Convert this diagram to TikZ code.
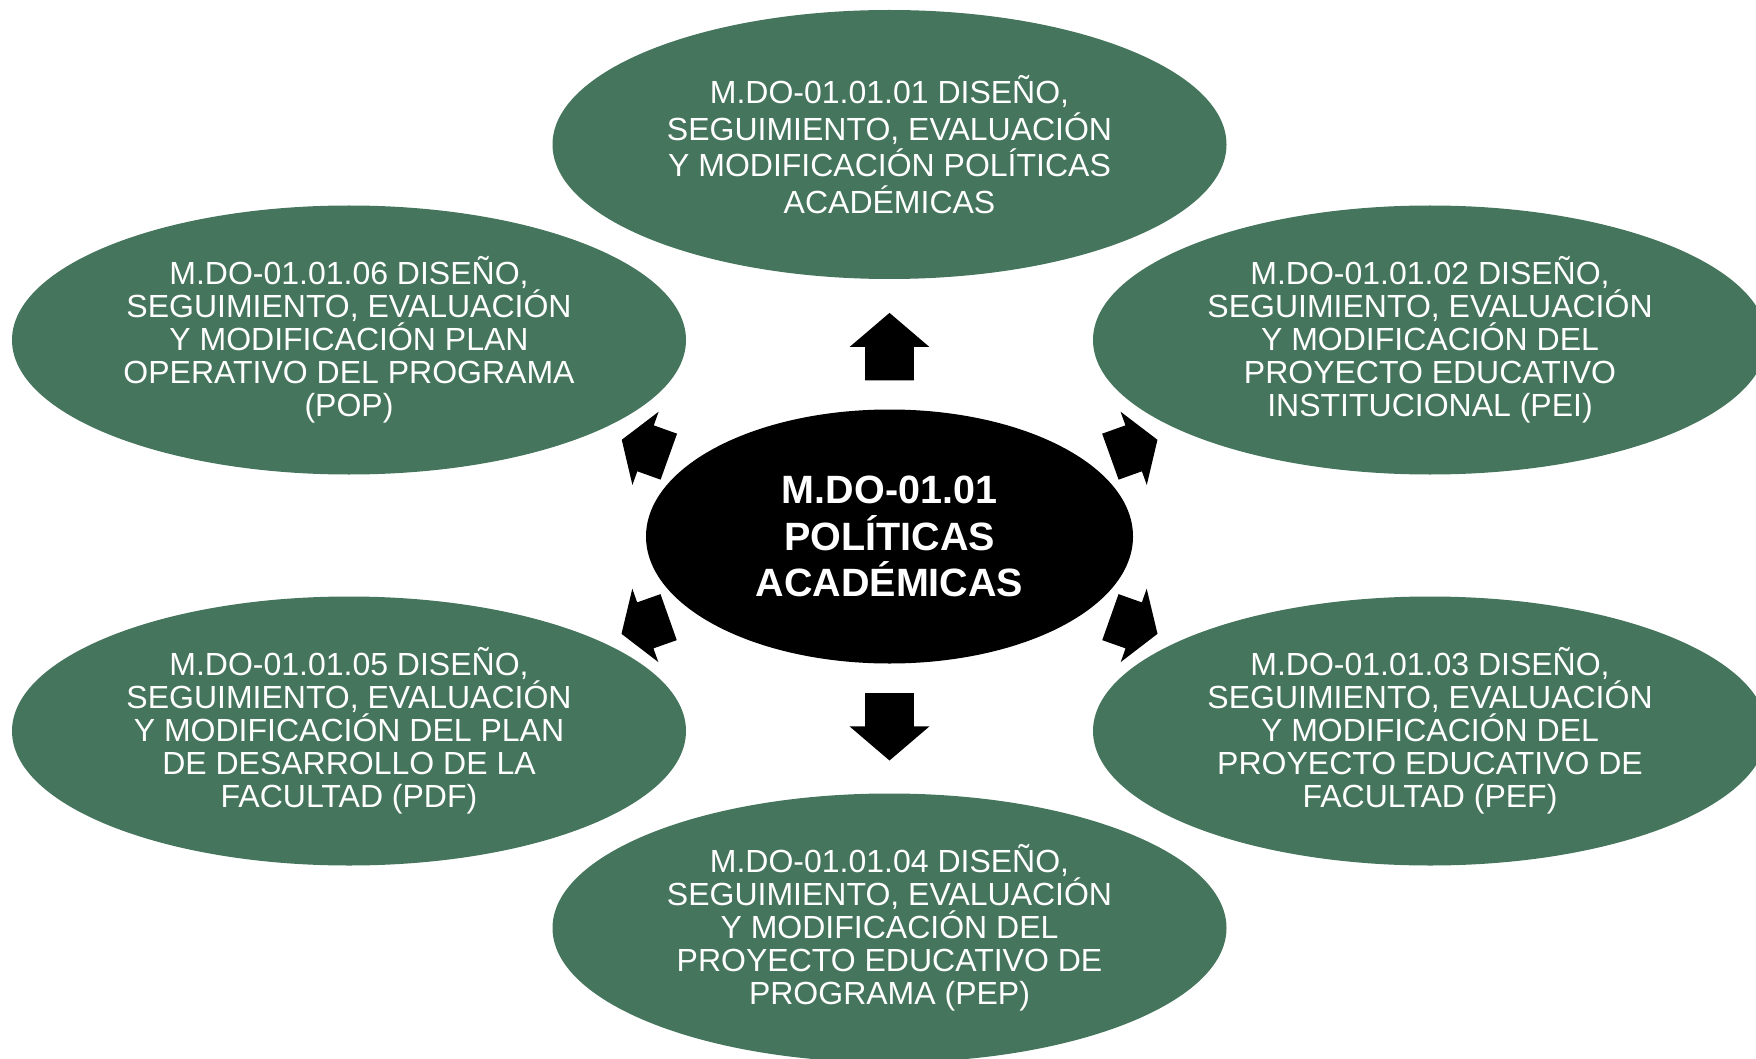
\documentclass[tikz,border=0pt]{standalone}
\usepackage{fontspec}
\setmainfont{Liberation Sans}
\usetikzlibrary{shapes.geometric, shapes.arrows}
\definecolor{leafgreen}{RGB}{69,117,92}
\tikzset{
    proc/.style = {ellipse, fill=leafgreen, text=white, inner sep=0pt,
        minimum width=337pt, minimum height=134.5pt, align=center,
        font=\fontsize{16}{16.5}\selectfont},
    hub/.style = {ellipse, fill=black, text=white, inner sep=0pt,
        minimum width=243.5pt, minimum height=127pt, align=center,
        font=\bfseries\fontsize{19.75}{23.3}\selectfont},
}
\tikzset{
    flow/.style = {single arrow, fill=black, inner xsep=0pt, inner ysep=12pt,
        minimum height=33.7pt, anchor=tail,
        single arrow head extend=7.75pt, single arrow tip angle=99},
    sideflow/.style = {flow, minimum height=25pt,
        single arrow head extend=7.25pt, single arrow tip angle=114},
}

\begin{document}
\begin{tikzpicture}[x=0.5pt, y=-0.5pt]
    \useasboundingbox (0, 0) rectangle (1756, 1059);

    \node[proc, font=\fontsize{16}{18.3}\selectfont] (pol) at (889.5, 144.5) {M.DO-01.01.01 DISEÑO,\\ SEGUIMIENTO, EVALUACIÓN\\ Y MODIFICACIÓN POLÍTICAS\\ ACADÉMICAS};
    \node[proc] (pop) at (349, 340) {M.DO-01.01.06 DISEÑO,\\ SEGUIMIENTO, EVALUACIÓN\\ Y MODIFICACIÓN PLAN\\ OPERATIVO DEL PROGRAMA\\ (POP)};
    \node[proc] (pei) at (1430, 340) {M.DO-01.01.02 DISEÑO,\\ SEGUIMIENTO, EVALUACIÓN\\ Y MODIFICACIÓN DEL\\ PROYECTO EDUCATIVO\\ INSTITUCIONAL (PEI)};
    \node[proc] (pdf) at (349, 731) {M.DO-01.01.05 DISEÑO,\\ SEGUIMIENTO, EVALUACIÓN\\ Y MODIFICACIÓN DEL PLAN\\ DE DESARROLLO DE LA\\ FACULTAD (PDF)};
    \node[proc] (pef) at (1430, 731) {M.DO-01.01.03 DISEÑO,\\ SEGUIMIENTO, EVALUACIÓN\\ Y MODIFICACIÓN DEL\\ PROYECTO EDUCATIVO DE\\ FACULTAD (PEF)};
    \node[proc] (pep) at (889.5, 928) {M.DO-01.01.04 DISEÑO,\\ SEGUIMIENTO, EVALUACIÓN\\ Y MODIFICACIÓN DEL\\ PROYECTO EDUCATIVO DE\\ PROGRAMA (PEP)};

    \node[hub] (mdo) at (889.5, 536.5) {M.DO-01.01\\ POLÍTICAS\\ ACADÉMICAS};

    \node[flow, rotate=90] (a1) at (889.5, 380.7) {};
    \node[flow, rotate=-90] (a4) at (889.5, 692.7) {};
    \node[sideflow, rotate=160.3] (a6) at (669.2, 456.8) {};
    \node[sideflow, rotate=19.7] (a2) at (1110, 456.8) {};
    \node[sideflow, rotate=199.5] (a5) at (669, 617) {};
    \node[sideflow, rotate=-19.5] (a3) at (1110, 617) {};
\end{tikzpicture}
\end{document}
